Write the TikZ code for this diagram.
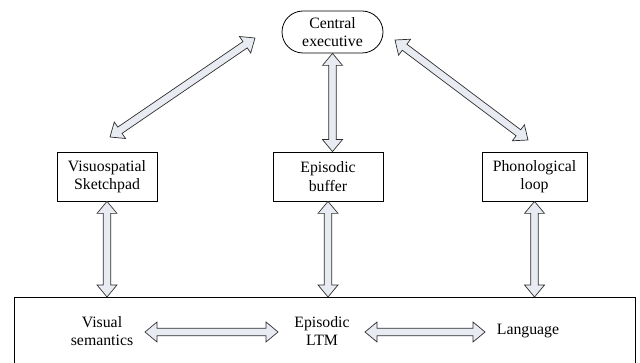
\documentclass[tikz,border=0pt]{standalone}
\usepackage{fontspec}
\setmainfont{Liberation Serif}
\usetikzlibrary{calc}

\definecolor{arrowfill}{HTML}{E8ECF2}
\definecolor{arrowline}{HTML}{2E2E2E}

% arrow geometry (head length, head half-width, shaft half-width)
\newcommand{\ahl}{12pt}
\newcommand{\ahw}{10pt}
\newcommand{\asw}{3.8pt}

% hollow double-headed block arrow between two named points
\newcommand{\dblarrow}[2]{%
  \coordinate (da-a) at ($(#1)!\ahl!(#2)$);
  \coordinate (da-b) at ($(#2)!\ahl!(#1)$);
  \draw[blockarrow] (#1)
    -- ($(da-a)!\ahw!90:(#2)$) -- ($(da-a)!\asw!90:(#2)$)
    -- ($(da-b)!\asw!-90:(#1)$) -- ($(da-b)!\ahw!-90:(#1)$)
    -- (#2)
    -- ($(da-b)!\ahw!90:(#1)$) -- ($(da-b)!\asw!90:(#1)$)
    -- ($(da-a)!\asw!-90:(#2)$) -- ($(da-a)!\ahw!-90:(#2)$)
    -- cycle;}

\begin{document}
\begin{tikzpicture}[x=1pt,y=-1pt,
  every node/.style={font=\rmfamily\fontsize{15.8}{18.5}\selectfont, align=center},
  module/.style={draw=black, line width=0.8pt, inner sep=0pt,
                 minimum width=100pt, minimum height=49pt},
  blockarrow/.style={draw=arrowline, fill=arrowfill, line width=0.7pt,
                     line join=miter}]
\useasboundingbox (0,0) rectangle (640,363);
\clip (0,0) rectangle (640,363);

% components
\node[draw, rounded corners=21pt, line width=0.8pt, inner sep=0pt,
      minimum width=101pt, minimum height=42pt] (ce) at (332.5,32)
      {Central\\executive};
\node[module] (vs) at (107,176.5) {Visuospatial\\Sketchpad};
\node[module, minimum width=110pt] (eb) at (328,176.5) {Episodic\\buffer};
\node[module, minimum width=105pt] (pl) at (534.5,176.5) {Phonological\\loop};

% long-term memory store (runs off the lower edge)
\node[draw, line width=1pt, inner sep=0pt, anchor=north west,
      minimum width=621pt, minimum height=100pt] (ltm) at (14,297) {};
\node (vsem) at (102,331) {Visual\\semantics};
\node (eltm) at (322,331) {Episodic\\LTM};
\node (lang) at (528,331) {Language};

% arrow end points
\coordinate (ce-b) at (ce.south);
\coordinate (eb-t) at (ce.south |- eb.north);
\coordinate (d1a) at (255,38);
\coordinate (d1b) at (110,137);
\coordinate (d2a) at (395,40);
\coordinate (d2b) at (528,140);
\coordinate (vs-l) at (vs.south |- ltm.north);
\coordinate (eb-l) at (eb.south |- ltm.north);
\coordinate (pl-l) at (pl.south |- ltm.north);
\coordinate (h1a) at (145,332);
\coordinate (h1b) at (278,332);
\coordinate (h2a) at (365,332);
\coordinate (h2b) at (485,332);

% connectors
\dblarrow{ce-b}{eb-t}
\dblarrow{d1a}{d1b}
\dblarrow{d2a}{d2b}
\dblarrow{vs.south}{vs-l}
\dblarrow{eb.south}{eb-l}
\dblarrow{pl.south}{pl-l}
\dblarrow{h1a}{h1b}
\dblarrow{h2a}{h2b}
\end{tikzpicture}
\end{document}
